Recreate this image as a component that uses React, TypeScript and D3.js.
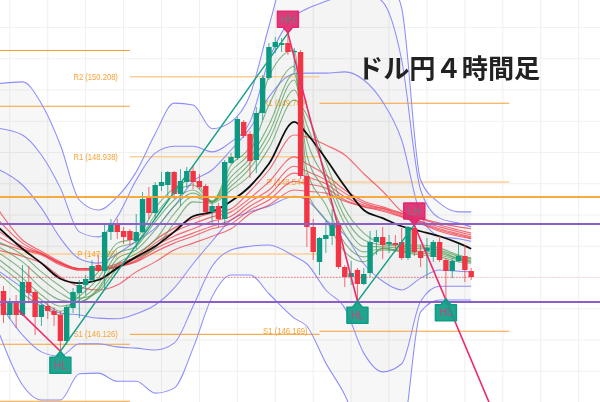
import React from "react";
import * as d3 from "d3";

const W = 600, H = 402;

// Candles (price)
const candleOpen = [146.784,146.4,146.608,146.4,146.928,146.768,146.368,146.544,146.464,146.4,145.984,146.512,146.752,146.88,146.96,147.2,147.104,147.728,147.84,147.744,147.744,147.584,147.728,148.272,148.032,148.464,148.48,148.688,148.336,148.528,148.704,148.544,148.464,148.048,148.144,147.936,148.832,148.912,149.488,149.296,148.88,149.632,150.192,150.688,150.72,150.752,150.608,150.608,148.624,147.808,147.248,147.616,147.664,147.872,147.168,147.008,147.12,146.896,147.072,147.568,147.648,147.536,147.552,147.568,147.312,147.792,147.424,147.424,147.328,147.568,147.28,147.104,147.264,147.344,147.104];
const candleClose = [146.4,146.608,146.4,146.928,146.752,146.368,146.56,146.464,146.4,145.984,146.528,146.768,146.88,146.976,147.184,147.104,147.728,147.84,147.728,147.648,147.6,147.728,148.256,148.032,148.48,148.528,148.688,148.336,148.544,148.704,148.528,148.448,148.048,148.144,147.936,148.848,148.928,149.536,149.264,148.864,149.632,150.192,150.688,150.768,150.752,150.608,150.624,148.624,147.808,147.408,147.632,147.68,147.872,147.168,147.008,147.072,146.896,147.056,147.568,147.648,147.52,147.568,147.52,147.312,147.808,147.408,147.312,147.472,147.568,147.28,147.104,147.264,147.344,147.12,147.008];
const candleHigh = [146.864,146.672,146.72,147.2,147.184,146.8,146.576,146.592,146.528,146.464,146.56,146.832,146.96,147.04,147.28,147.36,147.84,147.936,147.936,147.808,147.776,148.016,148.368,148.448,148.528,148.688,148.704,148.704,148.736,148.768,148.784,148.656,148.496,148.208,148.192,148.88,148.992,149.568,149.52,149.344,149.728,150.24,150.752,150.848,150.832,150.912,150.672,150.64,148.672,147.936,147.648,147.904,148.096,147.904,147.2,147.264,147.152,147.152,147.744,147.76,147.808,147.68,147.68,147.792,147.824,147.824,147.52,147.632,147.6,147.664,147.312,147.312,147.536,147.52,147.152];
const candleLow = [146.272,146.336,146.192,146.384,146.592,146.08,146.224,146.336,146.224,145.824,145.92,146.432,146.352,146.72,146.912,147.088,146.8,147.6,147.616,147.536,147.52,147.456,147.712,147.936,147.936,148.384,148.288,148.256,148.144,148.432,148.416,148.416,148.032,147.84,147.808,147.872,148.816,148.88,149.232,148.592,148.672,149.52,150.16,150.592,150.608,150.56,150.272,148.576,147.488,147.28,147.04,147.392,147.52,147.136,146.848,146.88,146.624,146.88,147.008,147.36,147.296,147.392,147.408,147.28,147.28,147.344,147.168,146.976,147.248,147.248,146.64,146.992,147.248,146.928,146.96];

// Candle positions at which the moving averages and bands were read
const sampleIdx = [-1,3,6,9,12,15,18,21,24,27,30,33,36,39,42,46,48,51,54,57,60,63,66,69,72,74];

const ma = [147.82,147.46,147.23,146.98,146.91,146.96,147.15,147.33,147.50,147.73,147.98,148.05,148.22,148.46,148.82,149.49,149.30,148.90,148.46,148.08,147.95,147.82,147.74,147.66,147.55,147.46];

const upper3 = [150.10,150.13,149.78,149.12,148.24,148.08,148.29,148.69,149.30,149.79,149.76,149.38,149.49,149.92,151.02,152.40,152.64,152.72,152.72,152.40,151.92,151.31,148.56,148.19,148.05,148.05];
const upper2 = [149.39,149.28,148.96,148.43,147.73,147.65,147.97,148.56,148.99,149.10,149.10,149.01,149.17,149.49,150.48,151.18,151.30,151.42,151.52,151.57,151.41,150.48,148.40,147.95,147.87,147.81];
const upper1 = [148.74,148.48,148.11,147.63,147.30,147.23,147.38,147.58,147.79,148.14,148.54,148.72,149.04,149.39,149.89,150.26,150.27,150.27,150.29,150.16,149.81,149.20,148.00,147.66,147.62,147.58];
const lower1 = [147.12,146.83,146.58,146.43,146.40,146.35,146.34,146.42,146.56,146.83,147.22,147.58,147.92,148.05,148.14,148.30,148.24,147.92,147.68,147.22,146.94,146.80,146.99,147.12,147.10,147.09];
const lower2 = [146.64,146.08,145.81,145.74,145.94,145.94,145.89,145.87,145.84,145.95,146.54,147.18,147.44,147.50,147.52,147.34,147.22,146.80,146.51,145.79,145.49,145.62,146.62,146.86,146.86,146.86];
const lower3 = [146.19,145.28,145.04,145.04,145.46,145.47,145.34,145.34,145.15,145.23,145.87,146.69,147.04,147.04,146.74,146.35,146.22,145.63,145.12,144.40,144.08,144.40,146.45,146.64,146.64,146.64];

const red1 = [148.11,147.60,147.42,147.25,147.14,147.15,147.22,147.34,147.60,147.79,147.94,148.03,148.10,148.38,148.72,149.28,149.25,149.12,148.96,148.66,148.38,148.06,147.95,147.87,147.81,147.78];
const red2 = [147.94,147.55,147.39,147.23,147.14,147.14,147.20,147.31,147.55,147.73,147.86,147.97,148.05,148.27,148.53,148.93,148.82,148.64,148.40,148.22,148.13,148.03,147.94,147.84,147.76,147.71];
const red3 = [147.76,147.50,147.38,147.23,147.14,147.14,147.18,147.28,147.50,147.66,147.78,147.90,147.98,148.21,148.40,148.78,148.70,148.56,148.35,148.19,148.11,148.02,147.90,147.81,147.73,147.68];
const red4 = [147.66,147.46,147.38,147.22,147.12,147.12,147.17,147.26,147.46,147.60,147.71,147.82,147.92,148.14,148.32,148.67,148.61,148.50,148.29,148.16,148.10,148.00,147.89,147.78,147.70,147.65];
const red5 = [147.55,147.44,147.36,147.20,147.12,147.12,147.17,147.25,147.41,147.55,147.66,147.78,147.86,148.08,148.24,148.54,148.50,148.43,148.24,148.14,148.08,147.98,147.87,147.76,147.68,147.63];
const red6 = [147.44,147.34,147.23,147.01,146.85,146.80,146.88,147.09,147.25,147.44,147.55,147.66,147.78,148.02,148.16,148.40,148.38,148.35,148.22,148.13,148.06,147.97,147.86,147.74,147.66,147.62];

const green1 = [147.09,146.74,146.54,146.40,146.77,147.09,147.55,147.63,148.11,148.43,148.56,148.22,148.80,149.10,150.22,150.64,148.40,147.92,147.41,147.25,147.47,147.41,147.36,147.33,147.25,147.23];
const green2 = [147.22,146.90,146.64,146.46,146.70,146.99,147.47,147.57,148.00,148.35,148.48,148.22,148.70,149.01,149.76,150.38,148.72,148.16,147.55,147.33,147.44,147.42,147.39,147.36,147.28,147.25];
const green3 = [147.31,146.99,146.72,146.54,146.64,146.90,147.38,147.50,147.89,148.24,148.40,148.21,148.61,148.91,149.44,150.26,148.96,148.37,147.70,147.41,147.46,147.44,147.42,147.39,147.30,147.26];
const green4 = [147.41,147.12,146.83,146.64,146.61,146.83,147.30,147.44,147.76,148.14,148.35,148.21,148.53,148.83,149.31,150.16,149.20,148.56,147.86,147.50,147.49,147.47,147.46,147.42,147.31,147.28];
const green5 = [147.50,147.25,146.98,146.75,146.61,146.80,147.22,147.38,147.60,148.02,148.29,148.21,148.46,148.75,149.20,150.00,149.44,148.69,147.97,147.60,147.52,147.50,147.49,147.44,147.34,147.30];
const green6 = [147.58,147.36,147.09,146.86,146.67,146.77,147.14,147.31,147.47,147.87,148.21,148.19,148.40,148.64,149.07,149.84,149.60,148.85,148.10,147.71,147.55,147.52,147.52,147.47,147.36,147.31];

// Pivot segments: [fromIdx, fromPrice, toIdx, toPrice]
const upLegs = [[9,145.82,45,150.91],[56,146.62,65,147.84]];
const downLegs = [[2,146.51,9,145.82],[45,150.91,56,146.62],[65,147.84,78,144.72]];

const pivotLabels = ["HL","HH","HL","LH","HL"];
const pivotIdx = [9,45,56,65,70];
const pivotPrice = [145.82,150.91,146.62,147.84,146.66];
const pivotKind = ["low","high","low","high","low"];

// Pivot point levels: [fromIdx, toIdx, price]
const strongLevels = [[-1,20,150.632],[-1,20,149.739],[-1,20,145.931],[-1,20,145.019],[50,80,149.787],[50,80,146.139]];
const mediumLevels = [[20,50,146.091]];
const paleLevels = [[20,50,150.213],[20,50,148.933],[-1,50,147.376],[50,80,148.528]];

const levelLabelText = ["R2 (150.208)","R1 (148.938)","P (147.396)","S1 (146.126)","R1 (149.749)","P (148.544)","S1 (146.169)"];
const levelLabelIdx = [20,20,20,20,50,50,50];
const levelLabelPrice = [150.213,148.933,147.376,146.091,149.787,148.528,146.139];

const fullOrange = [148.288];
const fullPurple = [147.856,146.608];
const lastPrice = 147.003;

const gridPrices = [151,150.5,150,149.5,149,148.5,148,147.5,147,146.5,146,145.5];
const gridIdx = d3.range(1, 93, 6);

const title = "ドル円４時間足";

const x = d3.scaleLinear().domain([0, 74]).range([3.5, 471.2]);
const y = d3.scaleLinear().domain([151.44, 145.008]).range([0, 402]);

const lineOf = (vals: number[]) =>
  d3.line<number>().x((_, i) => x(sampleIdx[i])).y((d) => y(d)).curve(d3.curveMonotoneX)(vals) || "";

const bandOf = (hi: number[], lo: number[]) =>
  d3.area<number>()
    .x((_, i) => x(sampleIdx[i]))
    .y0((_, i) => y(lo[i]))
    .y1((d) => y(d))
    .curve(d3.curveMonotoneX)(hi) || "";

const GREEN = "#089981";
const RED = "#f23645";
const LABEL_FONT = "'Liberation Sans', Arial, sans-serif";

function Marker({ label, idx, price, kind }: { label: string; idx: number; price: number; kind: string }) {
  const mx = x(idx), my = y(price);
  const isLow = kind === "low";
  const dir = isLow ? 1 : -1;
  const bw = 21, bh = 16, tip = 6;
  const near = my + dir * tip, far = my + dir * (tip + bh);
  const d = `M${mx},${my}L${mx + 5},${near}L${mx + bw / 2},${near}L${mx + bw / 2},${far}L${mx - bw / 2},${far}L${mx - bw / 2},${near}L${mx - 5},${near}Z`;
  return (
    <g>
      <path d={d} fill={isLow ? "#0f9d85" : "#e0296f"} fillOpacity={0.92} stroke={isLow ? "#0f9d85" : "#e0296f"} strokeWidth={1.5} strokeLinejoin="round" />
      <text x={mx} y={(near + far) / 2 + 3.5} textAnchor="middle" fontFamily={LABEL_FONT} fontSize={10} fill={isLow ? "#c4467e" : "#6b7f78"}>{label}</text>
    </g>
  );
}

export default function App() {
  const reds = [red1, red2, red3, red4, red5, red6];
  const greens = [green1, green2, green3, green4, green5, green6];
  const blues = [upper3, upper2, upper1, lower1, lower2, lower3];
  const xRight = x(74);
  return (
    <svg width={W} height={H} viewBox={`0 0 ${W} ${H}`} style={{ position: "absolute", left: 0, top: 0, background: "#fff" }}>
      <defs>
        <filter id="soft" x="0" y="0" width="100%" height="100%" filterUnits="userSpaceOnUse" primitiveUnits="userSpaceOnUse">
          <feGaussianBlur stdDeviation={0.35} />
        </filter>
      </defs>
      <rect width={W} height={H} fill="#fff" />
      <g filter="url(#soft)">
        {gridIdx.map((i) => <line key={"gx" + i} x1={x(i)} x2={x(i)} y1={0} y2={H} stroke="#efefef" strokeWidth={1} />)}
        {gridPrices.map((p) => <line key={"gy" + p} x1={0} x2={W} y1={y(p)} y2={y(p)} stroke="#f1f1f1" strokeWidth={1} />)}

        <path d={bandOf(upper3, lower3)} fill="#000" fillOpacity={0.03} />
        <path d={bandOf(upper2, lower2)} fill="#000" fillOpacity={0.015} />
        <path d={bandOf(upper1, lower1)} fill="#000" fillOpacity={0.02} />

        {strongLevels.map(([a, b, p], i) => <line key={"s" + i} x1={x(a)} x2={x(b)} y1={y(p)} y2={y(p)} stroke="#f6a030" strokeWidth={1.1} />)}
        {mediumLevels.map(([a, b, p], i) => <line key={"m" + i} x1={x(a)} x2={x(b)} y1={y(p)} y2={y(p)} stroke="#f9ac50" strokeWidth={1.3} />)}
        {paleLevels.map(([a, b, p], i) => <line key={"p" + i} x1={x(a)} x2={x(b)} y1={y(p)} y2={y(p)} stroke="#fccf94" strokeWidth={1.6} />)}
        {levelLabelText.map((t, i) => (
          <text key={t} x={x(levelLabelIdx[i]) - 12} y={y(levelLabelPrice[i]) + 3} textAnchor="end" textLength={t.length * 3.7} lengthAdjust="spacingAndGlyphs" fontFamily={LABEL_FONT} fontSize={8.6} fontWeight={500} fill="#f8a235">{t}</text>
        ))}

        {blues.map((s, i) => <path key={"b" + i} d={lineOf(s)} fill="none" stroke="#8c8cfb" strokeWidth={1.05} />)}
        {reds.map((s, i) => <path key={"r" + i} d={lineOf(s)} fill="none" stroke="#f2303f" strokeOpacity={0.7} strokeWidth={1.15} />)}
        {greens.map((s, i) => <path key={"g" + i} d={lineOf(s)} fill="none" stroke="#4c9a50" strokeOpacity={0.7} strokeWidth={1.1} />)}

        <path d={lineOf(ma)} fill="none" stroke="#111" strokeWidth={1.8} />

        {candleOpen.map((o, i) => {
          const c = candleClose[i];
          const col = c >= o ? GREEN : RED;
          const top = y(Math.max(o, c)), bot = y(Math.min(o, c));
          return (
            <g key={"c" + i}>
              <line x1={x(i)} x2={x(i)} y1={y(candleHigh[i])} y2={y(candleLow[i])} stroke={col} strokeWidth={1} strokeOpacity={0.75} />
              <rect x={x(i) - 2.7} y={top} width={5.4} height={Math.max(bot - top, 1.2)} fill={col} />
            </g>
          );
        })}

        {upLegs.map(([a, pa, b, pb], i) => <line key={"u" + i} x1={x(a)} y1={y(pa)} x2={x(b)} y2={y(pb)} stroke="#14a088" strokeWidth={1.4} />)}
        {downLegs.map(([a, pa, b, pb], i) => <line key={"d" + i} x1={x(a)} y1={y(pa)} x2={x(b)} y2={y(pb)} stroke="#ec2a6c" strokeWidth={1.6} />)}

        {fullOrange.map((p) => <line key={"o" + p} x1={0} x2={W} y1={y(p)} y2={y(p)} stroke="#f9a534" strokeOpacity={0.95} strokeWidth={2} />)}
        {fullPurple.map((p) => <line key={"v" + p} x1={0} x2={W} y1={y(p)} y2={y(p)} stroke="#8a60c8" strokeWidth={2} />)}
        <line x1={0} x2={xRight} y1={y(lastPrice)} y2={y(lastPrice)} stroke="#f23645" strokeOpacity={0.65} strokeWidth={1} strokeDasharray="1.5 1.5" />
        <line x1={xRight} x2={W} y1={y(lastPrice)} y2={y(lastPrice)} stroke="#f23645" strokeOpacity={0.2} strokeWidth={1} strokeDasharray="1.5 1.5" />

        {pivotLabels.map((l, i) => <Marker key={i} label={l} idx={pivotIdx[i]} price={pivotPrice[i]} kind={pivotKind[i]} />)}

        <text x={357} y={78} fontFamily="'Noto Sans CJK JP', sans-serif" fontWeight={700} fontSize={26.2} fill="#222">{title}</text>
      </g>
    </svg>
  );
}
